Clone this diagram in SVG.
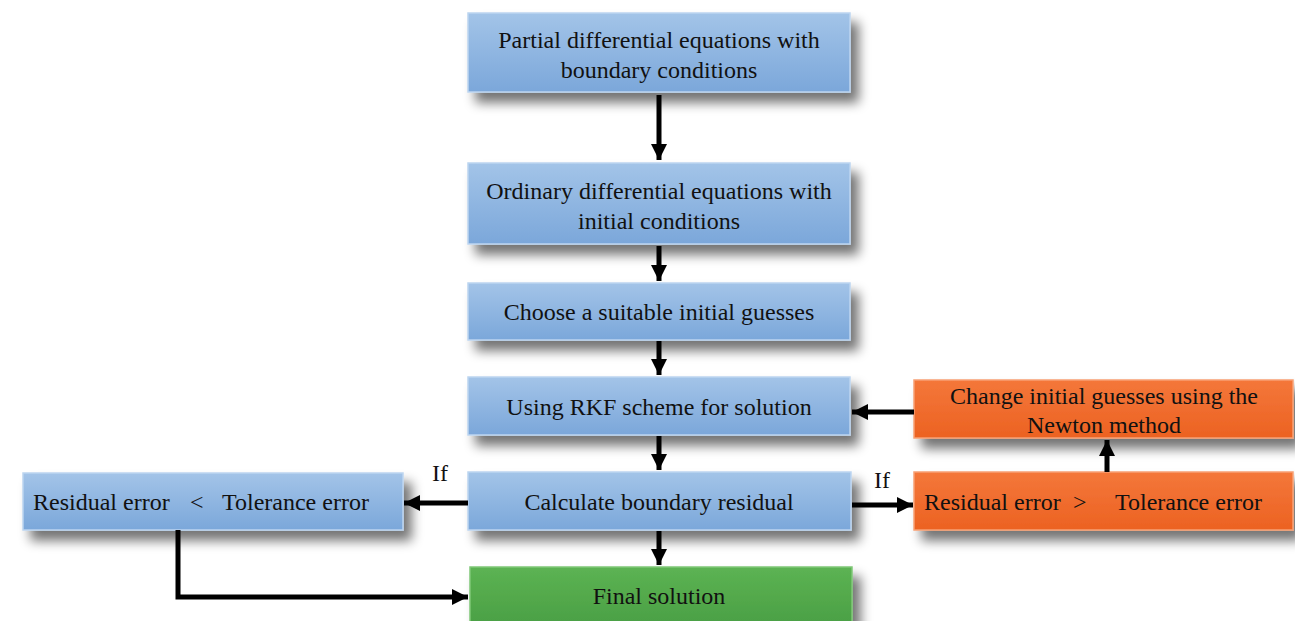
<svg xmlns="http://www.w3.org/2000/svg" width="1295" height="621" viewBox="0 0 1295 621">
<defs>
<linearGradient id="gBlue" x1="0" y1="0" x2="0" y2="1">
<stop offset="0" stop-color="#a3c4e8"/>
<stop offset="1" stop-color="#7ba7da"/>
</linearGradient>
<linearGradient id="gOrange" x1="0" y1="0" x2="0" y2="1">
<stop offset="0" stop-color="#f4773a"/>
<stop offset="1" stop-color="#ec6222"/>
</linearGradient>
<linearGradient id="gGreen" x1="0" y1="0" x2="0" y2="1">
<stop offset="0" stop-color="#5cb353"/>
<stop offset="1" stop-color="#4a9f44"/>
</linearGradient>
<filter id="sh" x="-10%" y="-30%" width="125%" height="180%">
<feGaussianBlur in="SourceAlpha" stdDeviation="6"/>
<feOffset dx="8" dy="10" result="b"/>
<feComponentTransfer><feFuncA type="linear" slope="0.55"/></feComponentTransfer>
<feMerge><feMergeNode/><feMergeNode in="SourceGraphic"/></feMerge>
</filter>
<marker id="ah" viewBox="0 0 10 10" refX="10" refY="5" markerWidth="3.2" markerHeight="3.2" orient="auto" markerUnits="strokeWidth">
<path d="M0,0 L10,5 L0,10 z" fill="#000"/>
</marker>
</defs>
<style>
.blue{fill:url(#gBlue);stroke:#bcd5f0;stroke-width:1.5}
.orange{fill:url(#gOrange);stroke:#f7a074;stroke-width:1.5}
.green{fill:url(#gGreen);stroke:#7fc777;stroke-width:1.5}
text{font-family:'Liberation Serif','DejaVu Serif',serif;font-size:24px;fill:#111;text-anchor:middle}
.l{text-anchor:start}
.c{stroke:#000;stroke-width:5;fill:none;marker-end:url(#ah)}
</style>
<g filter="url(#sh)">
<g id="n1"><rect class="blue" x="468" y="13" width="382" height="79"/></g>
<g id="n2"><rect class="blue" x="468" y="163" width="382" height="81"/></g>
<g id="n3"><rect class="blue" x="468" y="283" width="382" height="57"/></g>
<g id="n4"><rect class="blue" x="468" y="377" width="382" height="58"/></g>
<g id="n5"><rect class="blue" x="468" y="472" width="383" height="58"/></g>
<g id="n6"><rect class="green" x="470" y="567" width="382" height="60"/></g>
<g id="n7"><rect class="blue" x="23" y="473" width="380" height="57"/></g>
<g id="n8"><rect class="orange" x="914" y="380" width="379" height="58"/></g>
<g id="n9"><rect class="orange" x="914" y="472" width="379" height="58"/></g>
</g>
<g id="labels">
<text x="659" y="48">Partial differential equations with</text>
<text x="659" y="78">boundary conditions</text>
<text x="659" y="199">Ordinary differential equations with</text>
<text x="659" y="229">initial conditions</text>
<text x="659" y="320">Choose a suitable initial guesses</text>
<text x="659" y="415">Using RKF scheme for solution</text>
<text x="659" y="510">Calculate boundary residual</text>
<text x="659" y="604">Final solution</text>
<text class="l" y="510"><tspan x="33">Residual error</tspan><tspan x="190">&lt;</tspan><tspan x="222">Tolerance error</tspan></text>
<text x="1104" y="404">Change initial guesses using the</text>
<text x="1104" y="433">Newton method</text>
<text class="l" y="510"><tspan x="924">Residual error</tspan><tspan x="1073">&gt;</tspan><tspan x="1115">Tolerance error</tspan></text>
<text x="440" y="481">If</text>
<text x="882" y="488">If</text>
</g>
<g id="connectors">
<line class="c" x1="659" y1="95" x2="659" y2="160"/>
<line class="c" x1="659" y1="246" x2="659" y2="281"/>
<line class="c" x1="659" y1="341" x2="659" y2="375"/>
<line class="c" x1="659" y1="436" x2="659" y2="470"/>
<line class="c" x1="659" y1="531" x2="659" y2="565"/>
<line class="c" x1="468" y1="503" x2="404" y2="503"/>
<line class="c" x1="852" y1="505" x2="913" y2="505"/>
<line class="c" x1="1107" y1="472" x2="1107" y2="440"/>
<line class="c" x1="914" y1="412" x2="852" y2="412"/>
<polyline class="c" points="178,530 178,597 468,597"/>
</g>
</svg>
